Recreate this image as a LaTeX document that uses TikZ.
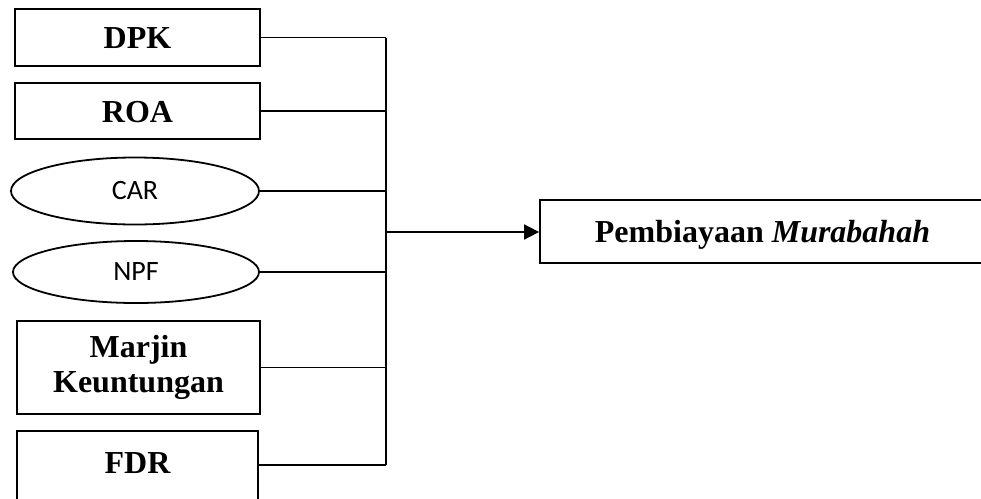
\documentclass[tikz,border=0pt]{standalone}
\usepackage{fontspec}
\setmainfont{Liberation Serif}
\newfontfamily\calfont{Carlito}
\usetikzlibrary{shapes.geometric,arrows.meta}
\tikzset{
  box/.style={draw, rectangle, line width=1.8pt, inner sep=0pt,
    font=\fontsize{32}{35}\selectfont\bfseries},
  oval/.style={draw, ellipse, line width=1.8pt, inner sep=0pt,
    font=\calfont\fontsize{28}{30}\selectfont},
  conn/.style={line width=1.8pt},
  arr/.style={line width=1.8pt, -{Triangle[length=15pt,width=15pt]}}
}
\begin{document}
\begin{tikzpicture}[x=1pt,y=-1pt]
\useasboundingbox (0,0) rectangle (981,498);
\clip (0,0) rectangle (981,498);
\node[box, minimum width=245pt, minimum height=57pt, text height=22pt, text depth=0pt] (dpk) at (137.5,37.5) {DPK};
\node[box, minimum width=245pt, minimum height=56pt, text height=22pt, text depth=0pt] (roa) at (137.5,111) {ROA};
\node[oval, minimum width=248pt, minimum height=67pt] (car) at (135,191) {CAR};
\node[oval, minimum width=246pt, minimum height=62pt] (npf) at (136,272) {NPF};
\node[box, minimum width=243pt, minimum height=93pt, align=center] (mk) at (138.5,367.5) {Marjin\\Keuntungan};
\node[box, minimum width=241pt, minimum height=84pt, text height=22pt, text depth=0pt] (fdr) at (137.5,473) {\raisebox{10.5pt}{FDR}};
\node[box, minimum width=445pt, minimum height=63pt, text height=22pt, text depth=0pt] (pm) at (762.5,231.5) {Pembiayaan \textit{Murabahah}};
\coordinate (bt) at (386,38);
\coordinate (bb) at (386,465);
\coordinate (bm) at (386,232);
\draw[conn] (dpk.east) -- (dpk.east -| bt);
\draw[conn] (roa.east) -- (roa.east -| bt);
\draw[conn] (car.east) -- (car.east -| bt);
\draw[conn] (npf.east) -- (npf.east -| bt);
\draw[conn] (mk.east) -- (mk.east -| bt);
\draw[conn] (fdr.east |- bb) -- (bb);
\draw[conn] (bt) -- (bb);
\draw[arr] (bm) -- (pm.west |- bm);
\end{tikzpicture}
\end{document}
